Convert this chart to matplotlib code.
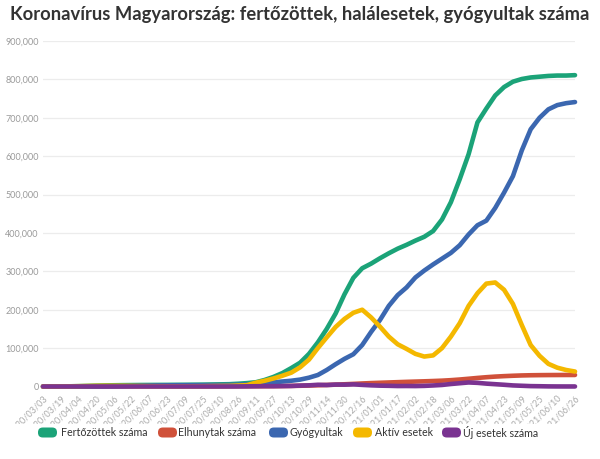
import numpy as np
import pandas as pd
import matplotlib
matplotlib.use("Agg")
import matplotlib.pyplot as plt
from matplotlib.patches import FancyBboxPatch, Rectangle
from matplotlib.ticker import FuncFormatter

# dates every 8 days, 2020/03/03 .. 2021/06/26
dates = pd.date_range("2020-03-03", "2021-06-26", freq="8D")
tick_dates = pd.date_range("2020-03-03", "2021-06-26", freq="16D")

# values, in thousands
cases = [0, 0.1, 0.2, 0.5, 0.9, 1.5, 2.2, 2.8, 3.2, 3.5,
         3.7, 3.9, 4.0, 4.1, 4.2, 4.3, 4.4, 4.6, 4.8, 5.2,
         5.6, 6.0, 7.2, 8.8, 11, 17, 25, 35, 48, 62,
         85, 115, 150, 190, 240, 283, 308, 320, 334, 347,
         359, 369, 380, 390, 405, 435, 480, 540, 605, 688,
         724, 758, 780, 794, 801, 805, 807, 809, 810, 810,
         811]
deaths = [0, 0, 0, 0.01, 0.03, 0.1, 0.2, 0.3, 0.4, 0.45,
          0.5, 0.53, 0.55, 0.57, 0.58, 0.59, 0.6, 0.6, 0.61, 0.61,
          0.62, 0.62, 0.63, 0.65, 0.7, 0.8, 0.95, 1.2, 1.5, 1.9,
          2.5, 3.2, 4.0, 4.8, 5.8, 6.8, 7.9, 8.9, 9.7, 10.5,
          11.3, 12.1, 12.8, 13.5, 14.3, 15.2, 16.5, 18.2, 20.2, 22.3,
          24.2, 25.8, 27.0, 28.0, 28.8, 29.3, 29.6, 29.8, 29.9, 30.0,
          30.0]
recovered = [0, 0, 0, 0, 0.05, 0.1, 0.3, 0.5, 0.8, 1.2,
             1.7, 2.2, 2.6, 2.9, 3.1, 3.3, 3.4, 3.5, 3.6, 3.7,
             3.8, 4.0, 4.5, 5.5, 7, 9, 11, 13, 15, 18,
             23, 30, 43, 58, 72, 84, 108, 142, 173, 210,
             238, 258, 284, 302, 318, 333, 348, 368, 396, 420,
             432, 465, 505, 548, 615, 670, 700, 722, 733, 738,
             741]
active = [0, 0, 0.1, 0.4, 0.8, 1.3, 1.8, 2.0, 1.9, 1.8,
          1.5, 1.2, 0.9, 0.7, 0.6, 0.5, 0.5, 0.6, 0.7, 1.0,
          1.3, 1.5, 2.5, 3.5, 10, 15, 21, 28, 36, 50,
          70, 100, 128, 155, 176, 192, 200, 180, 156, 130,
          110, 98, 85, 78, 81, 100, 130, 165, 210, 243,
          268, 271, 252, 215, 160, 108, 80, 59, 49, 43,
          39]
new_cases = [0, 0, 0, 0.05, 0.1, 0.1, 0.08, 0.06, 0.04, 0.03,
             0.03, 0.02, 0.02, 0.02, 0.02, 0.02, 0.02, 0.03, 0.03, 0.02,
             0.04, 0.1, 0.2, 0.4, 0.7, 0.9, 0.8, 1.1, 1.4, 2.4,
             3.0, 4.5, 3.8, 5.0, 4.8, 5.5, 4.2, 3.0, 2.2, 1.8,
             1.2, 1.3, 1.1, 1.6, 2.7, 4.0, 6.5, 8.5, 10.5, 9.5,
             7.5, 6.0, 4.5, 2.8, 1.9, 1.0, 0.7, 0.3, 0.15, 0.1,
             0.08]

labels = ["Fertőzöttek száma", "Elhunytak száma", "Gyógyultak",
          "Aktív esetek", "Új esetek száma"]
colors = ["#1ba378", "#d0513a", "#3b67b0", "#f4b800", "#7a3391"]
series = [cases, deaths, recovered, active, new_cases]

W, H = 600, 459
fig = plt.figure(figsize=(W / 100, H / 100), dpi=100)
ax = fig.add_axes([43 / W, 1 - 386.5 / H, 532 / W, 345.5 / H])

for i, (vals, c) in enumerate(zip(series, colors)):
    ax.plot(dates, np.array(vals) * 1000, color=c, lw=3.3,
            solid_capstyle="round", solid_joinstyle="round",
            clip_on=False, zorder=3 + i)

ax.set_xlim(dates[0], dates[-1])
ax.set_ylim(0, 900000)
ax.set_yticks(np.arange(0, 900001, 100000))
ax.yaxis.set_major_formatter(FuncFormatter(lambda v, p: f"{v:,.0f}"))
ax.set_xticks(tick_dates)
ax.set_xticklabels([d.strftime("%Y/%m/%d") for d in tick_dates],
                   rotation=45, ha="right", rotation_mode="anchor")
ax.tick_params(axis="y", length=0, pad=3, labelsize=6.5, labelcolor="#9a9a9a")
ax.tick_params(axis="x", length=0, pad=5, labelsize=6.6, labelcolor="#ababab")
for lab in ax.get_yticklabels() + ax.get_xticklabels():
    lab.set_family("Lato")
ax.grid(axis="y", color="#ececec", lw=0.9)
ax.set_axisbelow(True)
for s in ax.spines.values():
    s.set_visible(False)

title = fig.text(0.5, 1 - 14.5 / H,
                 "Koronavírus Magyarország: fertőzöttek, halálesetek, gyógyultak száma",
                 ha="center", va="center", fontsize=13, fontweight="bold",
                 color="#333333", family="Lato")
# fit the title to the width it takes in the reference (~576 px)
fig.canvas.draw()
w = title.get_window_extent().width
title.set_fontsize(13 * 576 / w)

# white band: the legend covers the lower ends of the date labels
fig.patches.append(Rectangle((0, 0), 1, 1 - 424 / H, transform=fig.transFigure,
                             fc="white", ec="none", zorder=1))

# legend drawn by hand under the axis labels
sw_x = [38, 158, 269, 353, 442]
tx_x = [61, 178, 290, 375, 463]
texts = []
for sx, tx, c, lab in zip(sw_x, tx_x, colors, labels):
    fig.patches.append(FancyBboxPatch((sx / W, 1 - 437.5 / H), 19 / W, 10 / H,
                                      boxstyle="round,pad=0,rounding_size=0.008",
                                      transform=fig.transFigure, fc=c, ec="none",
                                      mutation_aspect=W / H, zorder=2))
    texts.append(fig.text(tx / W, 1 - 432.5 / H, lab, ha="left", va="center",
                          fontsize=8.6, color="#333333", family="Lato", zorder=3))
# size legend text so "Fertőzöttek száma" is ~86 px wide like the reference
fig.canvas.draw()
w = texts[0].get_window_extent().width
for t in texts:
    t.set_fontsize(8.6 * 86 / w)

fig.savefig("out.png", dpi=100, facecolor="white")
